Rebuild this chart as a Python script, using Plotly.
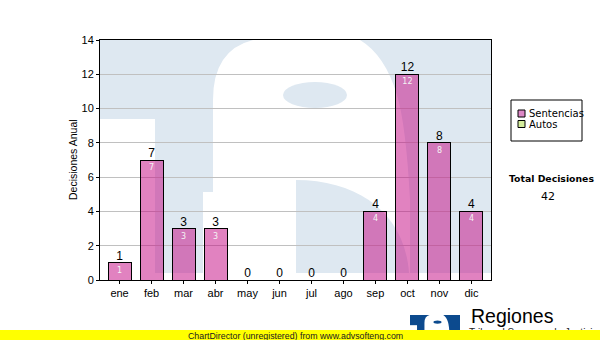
import plotly.graph_objects as go

months = ["ene", "feb", "mar", "abr", "may", "jun", "jul", "ago", "sep", "oct", "nov", "dic"]
sentencias = [1, 7, 3, 3, 0, 0, 0, 0, 4, 12, 8, 4]
autos = [0, 0, 0, 0, 0, 0, 0, 0, 0, 0, 0, 0]
y_ticks = [0, 2, 4, 6, 8, 10, 12, 14]
legend_names = ["Sentencias", "Autos"]
legend_colors = ["#dd88c6", "#d4ec9c"]
total_label = "Total Decisiones"
y_title = "Decisiones Anual"

totals = [s + a for s, a in zip(sentencias, autos)]
grand_total = sum(totals)

W, H = 600, 340
L, R, T, B = 100, 491, 40, 280
WM_BLUE = "#dee8f1"
LOGO_BLUE = "#0c4a8e"


def PX(x):
    return (x - L) / (R - L)


def PY(y):
    return (B - y) / (B - T)


# ---- logo geometry (pixel space of the enlarged watermark, box 100..491 x 40..273) ----
ARCH = [("M", 253, 40), ("Q", 213, 50, 213, 100), ("L", 213, 192), ("L", 203, 192),
        ("L", 203, 273), ("L", 410, 273), ("L", 410, 200), ("Q", 406, 125, 397, 95),
        ("Q", 385, 55, 360, 40), ("Z",)]
LOWER = [("M", 296, 273), ("L", 296, 180), ("C", 360, 180, 405, 215, 409, 273), ("Z",)]


def make_path(cmds, tf):
    out = []
    for c in cmds:
        op, vals = c[0], c[1:]
        pts = []
        for k in range(0, len(vals), 2):
            x, y = tf(vals[k], vals[k + 1])
            pts.append(f"{PX(x):.5f},{PY(y):.5f}")
        out.append(op + " ".join(pts))
    return " ".join(out)


def logo_shapes(tf, blue, layer):
    sh = []

    def rect_px(x0, y0, x1, y1, fill):
        ax, ay = tf(x0, y0)
        bx, by = tf(x1, y1)
        return dict(type="rect", xref="paper", yref="paper", layer=layer,
                    x0=PX(ax), x1=PX(bx), y0=PY(by), y1=PY(ay), fillcolor=fill,
                    line=dict(width=0))

    sh.append(rect_px(100, 119, 155, 280, "white"))
    sh.append(dict(type="path", xref="paper", yref="paper", layer=layer,
                   path=make_path(ARCH, tf), fillcolor="white", line=dict(width=0)))
    sh.append(dict(type="path", xref="paper", yref="paper", layer=layer,
                   path=make_path(LOWER, tf), fillcolor=blue, line=dict(width=0)))
    ax, ay = tf(283, 82)
    bx, by = tf(347, 108)
    sh.append(dict(type="circle", xref="paper", yref="paper", layer=layer,
                   x0=PX(ax), x1=PX(bx), y0=PY(by), y1=PY(ay), fillcolor=blue,
                   line=dict(width=0)))
    sh.append(rect_px(100, 273, 491, 280, "white"))
    return sh


def big_tf(x, y):
    return x, y


LSX, LSY = 50 / 391, 30 / 233


def small_tf(x, y):
    return 410 + (x - 100) * LSX, 315 + (y - 40) * LSY


def rect(x0, y0, x1, y1, fill, layer="above", line=None):
    return dict(type="rect", xref="paper", yref="paper", layer=layer,
                x0=PX(x0), x1=PX(x1), y0=PY(y1), y1=PY(y0), fillcolor=fill,
                line=line or dict(width=0))


fig = go.Figure()

fig.add_trace(go.Bar(
    x=months, y=sentencias, name=legend_names[0],
    marker=dict(color="rgba(196,6,130,0.5)", line=dict(color="black", width=1)),
    text=[str(v) if v else "" for v in sentencias], textposition="inside",
    insidetextanchor="end", textangle=0, constraintext="none",
    textfont=dict(size=8, color="#f4f4f4", family="DejaVu Sans"),
    showlegend=False, hoverinfo="skip"))
fig.add_trace(go.Bar(
    x=months, y=autos, name=legend_names[1],
    marker=dict(color=legend_colors[1], line=dict(color="black", width=0)),
    showlegend=False, hoverinfo="skip"))
fig.add_trace(go.Scatter(
    x=months, y=totals, mode="text", text=[str(v) for v in totals],
    textposition="top center", textfont=dict(size=12, color="black", family="Liberation Sans"),
    showlegend=False, hoverinfo="skip", cliponaxis=False))

shapes = []
shapes += logo_shapes(big_tf, WM_BLUE, "below")
# legend box
shapes.append(rect(511, 100, 582, 141, "white", line=dict(color="black", width=1)))
for i, c in enumerate(legend_colors):
    yc = 113.5 + 10.5 * i
    shapes.append(rect(518, yc - 3.5, 525, yc + 3.5, c, line=dict(color="black", width=1)))
# small logo at the bottom
shapes.append(rect(410, 315, 460, 345, LOGO_BLUE))
shapes += logo_shapes(small_tf, LOGO_BLUE, "above")


def note(x, y, text, size, family="Liberation Sans", xanchor="center", angle=0, color="black"):
    return dict(x=PX(x), y=PY(y), xref="paper", yref="paper", text=text, textangle=angle,
                xanchor=xanchor, yanchor="middle", showarrow=False,
                font=dict(size=size, color=color, family=family))


ann = [note(73, 160, y_title, 10.5, angle=-90)]
for i, nm in enumerate(legend_names):
    ann.append(note(527, 113.5 + 10.5 * i, nm, 10, family="DejaVu Sans", xanchor="left"))
ann.append(note(551, 178, "<b>" + total_label + "</b>", 9.3, family="DejaVu Sans"))
ann.append(note(548, 196, str(grand_total), 11, family="DejaVu Sans"))
ann.append(note(469, 315.5, "Regiones", 19.5, xanchor="left"))
ann.append(note(467, 332.5, "Tribunal Supremo de Justicia", 10, xanchor="left",
                color="#222222"))
# yellow banner (annotation box so that it covers the text underneath)
banner = note(300, 335.25, " ", 6)
banner.update(width=600, height=9.5, bgcolor="#ffff00", borderpad=0, borderwidth=0)
ann.append(banner)
ann.append(note(295, 335.5, "ChartDirector (unregistered) from www.advsofteng.com", 8.8,
                color="#202020"))

fig.update_layout(
    width=W, height=H, margin=dict(l=L, r=W - R, t=T, b=H - B, pad=0),
    paper_bgcolor="white", plot_bgcolor=WM_BLUE,
    barmode="stack", bargap=0.28,
    shapes=shapes, annotations=ann, showlegend=False,
    xaxis=dict(type="category", showline=True, linecolor="black", linewidth=1, mirror=True,
               ticks="outside", ticklen=3, tickcolor="black", showgrid=False,
               tickfont=dict(size=11, color="black", family="Liberation Sans")),
    yaxis=dict(range=[0, 14], tickvals=y_ticks, showline=True, linecolor="black", linewidth=1,
               mirror=True, ticks="outside", ticklen=3, tickcolor="black",
               showgrid=True, gridcolor="#c0c0c0", gridwidth=1, zeroline=False,
               tickfont=dict(size=11, color="black", family="Liberation Sans")),
)

fig.write_html("out.html")
